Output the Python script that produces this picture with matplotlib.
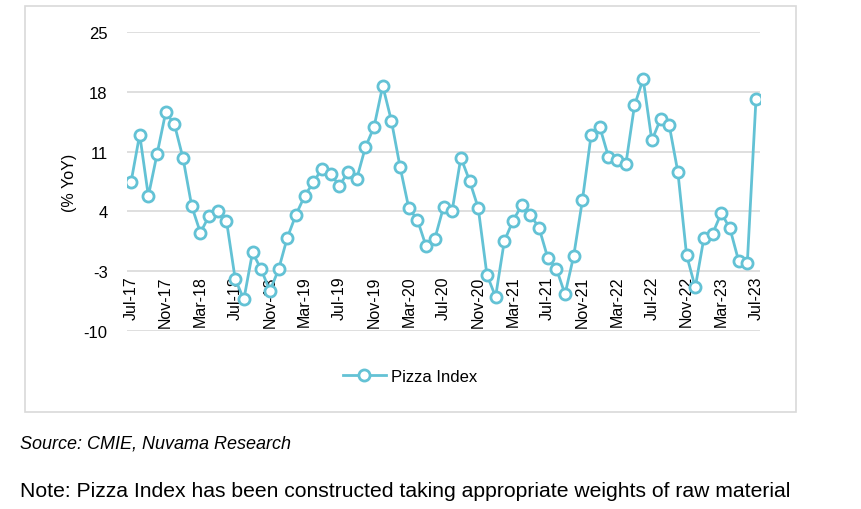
import matplotlib
matplotlib.use('Agg')
import matplotlib.pyplot as plt
from matplotlib.patches import Rectangle
import numpy as np

# monthly Pizza Index, % YoY, Jul-17 .. Jul-23
month_names = ['Jan', 'Feb', 'Mar', 'Apr', 'May', 'Jun', 'Jul', 'Aug', 'Sep', 'Oct', 'Nov', 'Dec']
pizza_index = [
    7.4, 13.0, 5.8, 10.7, 15.6, 14.2, 10.2, 4.6, 1.5, 3.5, 4.0, 2.9,      # Jul-17 .. Jun-18
    -3.9, -6.3, -0.8, -2.8, -5.3, -2.8, 0.9, 3.6, 5.8, 7.4, 9.0, 8.4,     # Jul-18 .. Jun-19
    7.0, 8.6, 7.8, 11.5, 13.9, 18.7, 14.6, 9.2, 4.4, 3.0, -0.1, 0.8,      # Jul-19 .. Jun-20
    4.5, 4.1, 10.3, 7.6, 4.4, -3.4, -6.0, 0.5, 2.9, 4.7, 3.6, 2.1,        # Jul-20 .. Jun-21
    -1.4, -2.7, -5.7, -1.2, 5.3, 12.9, 13.9, 10.4, 10.0, 9.5, 16.4, 19.5, # Jul-21 .. Jun-22
    12.3, 14.8, 14.1, 8.6, -1.1, -4.9, 0.9, 1.4, 3.8, 2.0, -1.8, -2.0,    # Jul-22 .. Jun-23
    17.2,                                                                 # Jul-23
]
labels = []
for i in range(len(pizza_index)):
    m = (6 + i) % 12
    yr = 17 + (6 + i) // 12
    labels.append(f"{month_names[m]}-{yr}")
y_ticks = [-10, -3, 4, 11, 18, 25]

line_color = '#63C2D5'
grid_color = '#D9D9D9'
font = 'Liberation Sans'

fig = plt.figure(figsize=(8.61, 5.10), dpi=100)
fig.patch.set_facecolor('white')

# outer chart border
fig.patches.append(Rectangle((25 / 861, 1 - 413 / 510), 771 / 861, 406 / 510,
                             transform=fig.transFigure, fill=False,
                             edgecolor='#D9D9D9', linewidth=1.2))

ax = fig.add_axes([127 / 861, 1 - 332 / 510, 633 / 861, 299 / 510])
x = np.arange(len(pizza_index))
ax.plot(x, pizza_index, color=line_color, linewidth=2.0, marker='o',
        markersize=8, markerfacecolor='white', markeredgecolor=line_color,
        markeredgewidth=2.0, label='Pizza Index', zorder=3)

# category axis crosses at -3, labels hang below that line
for s in ['top', 'right', 'left']:
    ax.spines[s].set_visible(False)
ax.spines['bottom'].set_position(('data', -3))
ax.spines['bottom'].set_visible(False)

ax.set_ylim(-10, 25)
ax.set_yticks(y_ticks)
ax.set_yticklabels([str(v) for v in y_ticks], fontsize=12, family=font)
ax.set_xlim(-0.46, len(pizza_index) - 0.54)
tick_pos = x[::4]
ax.set_xticks(tick_pos)
ax.set_xticklabels([labels[i] for i in tick_pos], rotation=90, fontsize=11.5,
                   family=font, va='top', ha='center')

ax.grid(axis='y', color=grid_color, linewidth=1.2)
ax.set_axisbelow(True)
ax.tick_params(axis='both', length=0)
ax.tick_params(axis='x', pad=3)
ax.tick_params(axis='y', pad=14)

ax.set_ylabel('(% YoY)', fontsize=11.5, family=font, labelpad=5)

fig.legend(handles=ax.get_legend_handles_labels()[0],
           labels=['Pizza Index'], loc='center',
           bbox_to_anchor=(410 / 861, 1 - 377 / 510), frameon=False,
           prop={'family': font, 'size': 12}, handlelength=2.6, handletextpad=0.3)

fig.text(20 / 861, 1 - 444 / 510, 'Source: CMIE, Nuvama Research', fontsize=13,
         style='italic', family=font, va='center', ha='left')
fig.text(20 / 861, 1 - 492 / 510,
         'Note: Pizza Index has been constructed taking appropriate weights of raw material',
         fontsize=15.2, family=font, va='center', ha='left')

fig.savefig('out.png', dpi=100)
